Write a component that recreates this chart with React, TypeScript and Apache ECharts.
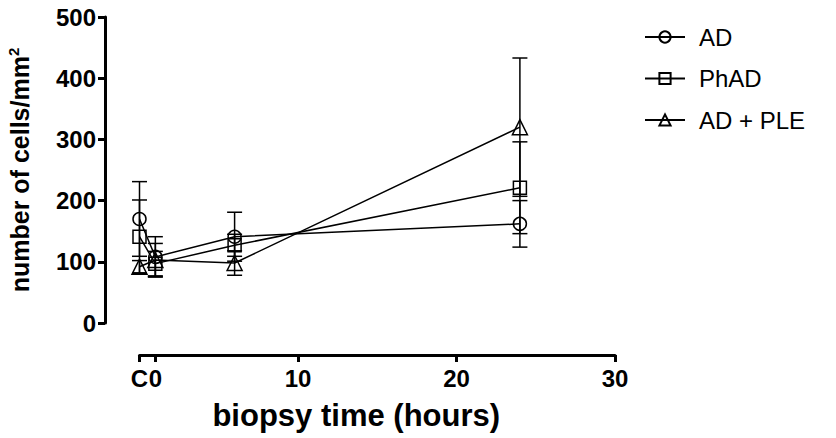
import React, { useEffect, useRef } from "react";
import * as echarts from "echarts";

// x positions: C (control) at 0, time 0 at 1, then hours
const xPositions = [0, 1, 6, 24];
const xTickValues = [0, 1, 10, 20, 30];
const xTickLabels = ["C", "0", "10", "20", "30"];
const yTicks = [0, 100, 200, 300, 400, 500];

const seriesNames = ["AD", "PhAD", "AD + PLE"];
const adMean = [170, 108, 141, 162];
const adErr = [61, 33, 40, 38];
const phadMean = [141, 97, 127, 221];
const phadErr = [60, 20, 18, 75];
const pleMean = [92, 103, 98, 320];
const pleErr = [10, 27, 20, 113];

const FONT = "Liberation Sans, Arial, sans-serif";

function buildLine(mean: number[]) {
  return xPositions.map((x, i) => [x, mean[i]]);
}
function buildErr(mean: number[], err: number[]) {
  return xPositions.map((x, i) => [x, mean[i] - err[i], mean[i] + err[i]]);
}

export default function App() {
  const ref = useRef<HTMLDivElement>(null);
  useEffect(() => {
    if (!ref.current) return;
    const chart = echarts.init(ref.current, undefined, { renderer: "svg" });
    const symbols = ["circle", "rect", "triangle"];
    const sizes = [13, 13, 15];
    const means = [adMean, phadMean, pleMean];
    const errs = [adErr, phadErr, pleErr];
    const lineSeries = seriesNames.map((name, i) => ({
      name,
      type: "line",
      data: buildLine(means[i]),
      symbol: symbols[i],
      symbolSize: sizes[i],
      showSymbol: true,
      lineStyle: { color: "#000", width: 1.5 },
      itemStyle: { color: "rgba(0,0,0,0)", borderColor: "#000", borderWidth: 1.5 },
      z: 3,
    }));
    const errSeries = seriesNames.map((name, i) => ({
      name: name + " err",
      type: "custom",
      data: buildErr(means[i], errs[i]),
      renderItem: (params: any, api: any) => {
        const x = api.value(0);
        const lo = api.coord([x, api.value(1)]);
        const hi = api.coord([x, api.value(2)]);
        const half = 7.5;
        const style = { stroke: "#000", lineWidth: 1.5 };
        return {
          type: "group",
          children: [
            { type: "line", shape: { x1: lo[0], y1: lo[1], x2: hi[0], y2: hi[1] }, style },
            { type: "line", shape: { x1: lo[0] - half, y1: lo[1], x2: lo[0] + half, y2: lo[1] }, style },
            { type: "line", shape: { x1: hi[0] - half, y1: hi[1], x2: hi[0] + half, y2: hi[1] }, style },
          ],
        };
      },
      z: 2,
    }));

    const labelStyle = {
      fontFamily: FONT,
      fontWeight: "bold",
      fontSize: 24,
      color: "#000",
    };

    chart.setOption({
      animation: false,
      backgroundColor: "#fff",
      grid: [
        { left: 139.5, right: 221, top: 17, bottom: 115, containLabel: false },
        { left: 105, width: 10, top: 17, bottom: 115, containLabel: false },
        { left: 139.5, right: 221, top: 354, height: 1, containLabel: false },
      ],
      legend: {
        data: seriesNames,
        orient: "vertical",
        left: 639,
        top: 20,
        itemWidth: 40,
        itemHeight: 14,
        itemGap: 17.5,
        textStyle: { fontFamily: FONT, fontSize: 24, color: "#000", padding: [0, 0, 0, 9] },
      },
      xAxis: [
        { gridIndex: 0, type: "value", min: 0, max: 30, show: false },
        { gridIndex: 1, type: "value", min: 0, max: 1, show: false },
        {
          gridIndex: 2,
          type: "value",
          min: 0,
          max: 30,
          position: "bottom",
          splitLine: { show: false },
          axisLine: { show: true, lineStyle: { color: "#000", width: 3 } },
          axisTick: {
            show: true,
            length: 7,
            lineStyle: { color: "#000", width: 3 },
            customValues: xTickValues,
          },
          axisLabel: {
            ...labelStyle,
            customValues: xTickValues,
            formatter: (v: number) => {
              const idx = xTickValues.indexOf(v);
              return idx >= 0 ? xTickLabels[idx] : "";
            },
            margin: 11,
          },
          name: "biopsy time (hours)",
          nameLocation: "middle",
          nameGap: 45,
          nameTextStyle: {
            fontFamily: FONT,
            fontWeight: "bold",
            fontSize: 31,
            color: "#000",
            padding: [0, 42, 0, 0],
          },
        },
      ],
      yAxis: [
        { gridIndex: 0, type: "value", min: 0, max: 500, show: false },
        {
          gridIndex: 1,
          type: "value",
          min: 0,
          max: 500,
          interval: 100,
          position: "left",
          splitLine: { show: false },
          axisLine: { show: true, lineStyle: { color: "#000", width: 3 } },
          axisTick: { show: true, length: 7, lineStyle: { color: "#000", width: 3 } },
          axisLabel: { ...labelStyle, customValues: yTicks, margin: 9 },
          name: "number of cells/mm{sup|2}",
          nameLocation: "middle",
          nameGap: 72,
          nameRotate: 90,
          nameTextStyle: {
            fontFamily: FONT,
            fontWeight: "bold",
            fontSize: 25,
            color: "#000",
            rich: {
              sup: {
                fontFamily: FONT,
                fontWeight: "bold",
                fontSize: 15,
                color: "#000",
                padding: [0, 0, 12, 0],
              },
            },
          },
        },
        { gridIndex: 2, type: "value", min: 0, max: 1, show: false },
      ],
      series: [...errSeries, ...lineSeries],
    });
    return () => chart.dispose();
  }, []);
  return (
    <div
      ref={ref}
      style={{ position: "fixed", left: 0, top: 0, width: 836, height: 438 }}
    />
  );
}
